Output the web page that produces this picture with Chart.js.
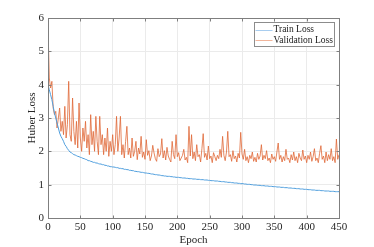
<!DOCTYPE html>
<html>
<head>
<meta charset="utf-8">
<script src="https://cdn.jsdelivr.net/npm/chart.js@4.4.1/dist/chart.umd.min.js"></script>
<style>
  html, body { margin: 0; padding: 0; background: #fff; }
  canvas { display: block; }
</style>
</head>
<body>
<canvas id="lossChart" width="374" height="247"></canvas>
<script>
// epochs 0..450 in steps of 2
const epochs = Array.from({ length: 226 }, (_, i) => i * 2);

const trainLoss = [
    4.00, 3.85, 3.70, 3.55, 3.35, 3.15, 3.00, 2.85, 2.70, 2.55,
    2.45, 2.38, 2.30, 2.20, 2.15, 2.08, 2.03, 1.98, 1.96, 1.93,
    1.90, 1.89, 1.87, 1.85, 1.84, 1.82, 1.81, 1.79, 1.78, 1.76,
    1.75, 1.72, 1.72, 1.70, 1.69, 1.67, 1.67, 1.65, 1.65, 1.63,
    1.62, 1.62, 1.60, 1.60, 1.58, 1.58, 1.56, 1.56, 1.54, 1.54,
    1.53, 1.53, 1.52, 1.51, 1.51, 1.49, 1.49, 1.48, 1.48, 1.46,
    1.46, 1.45, 1.45, 1.43, 1.43, 1.42, 1.42, 1.40, 1.40, 1.39,
    1.39, 1.38, 1.37, 1.37, 1.36, 1.35, 1.35, 1.34, 1.34, 1.33,
    1.32, 1.32, 1.31, 1.30, 1.30, 1.29, 1.29, 1.28, 1.27, 1.27,
    1.26, 1.26, 1.25, 1.25, 1.25, 1.24, 1.24, 1.23, 1.23, 1.22,
    1.22, 1.22, 1.21, 1.21, 1.20, 1.20, 1.20, 1.19, 1.19, 1.18,
    1.18, 1.18, 1.17, 1.17, 1.17, 1.16, 1.16, 1.16, 1.15, 1.15,
    1.15, 1.14, 1.14, 1.14, 1.13, 1.13, 1.12, 1.12, 1.12, 1.11,
    1.11, 1.11, 1.10, 1.10, 1.09, 1.09, 1.09, 1.08, 1.08, 1.07,
    1.07, 1.07, 1.06, 1.06, 1.05, 1.05, 1.05, 1.04, 1.04, 1.03,
    1.03, 1.03, 1.02, 1.02, 1.01, 1.01, 1.01, 1.00, 1.00, 0.99,
    0.99, 0.99, 0.98, 0.98, 0.98, 0.97, 0.97, 0.97, 0.96, 0.96,
    0.96, 0.95, 0.95, 0.95, 0.94, 0.94, 0.94, 0.93, 0.93, 0.93,
    0.92, 0.92, 0.92, 0.91, 0.91, 0.91, 0.90, 0.90, 0.90, 0.89,
    0.89, 0.89, 0.88, 0.88, 0.88, 0.87, 0.87, 0.87, 0.86, 0.86,
    0.86, 0.85, 0.85, 0.85, 0.84, 0.84, 0.84, 0.83, 0.83, 0.83,
    0.83, 0.82, 0.82, 0.82, 0.81, 0.81, 0.81, 0.81, 0.80, 0.80,
    0.80, 0.80, 0.79, 0.79, 0.79, 0.79
];

const valLoss = [
    5.75, 4.20, 3.90, 4.10, 3.30, 3.10, 3.20, 2.70, 3.00, 3.30,
    2.60, 2.90, 2.50, 3.35, 2.40, 2.80, 4.10, 2.50, 2.30, 3.60,
    2.60, 2.20, 2.90, 2.10, 3.45, 2.40, 2.00, 2.70, 2.30, 2.90,
    2.10, 2.50, 1.90, 3.10, 2.20, 2.60, 2.00, 3.05, 2.30, 1.90,
    3.05, 2.20, 2.50, 1.90, 2.40, 2.00, 2.70, 1.85, 2.30, 2.00,
    2.50, 1.90, 2.20, 3.05, 2.00, 2.40, 3.05, 1.90, 2.20, 1.80,
    2.30, 2.75, 1.90, 2.10, 1.80, 2.40, 1.85, 2.00, 2.30, 1.75,
    2.10, 1.92, 2.45, 1.82, 1.98, 1.76, 2.35, 1.88, 2.02, 1.72,
    1.86, 2.18, 1.95, 1.78, 1.70, 2.08, 1.84, 1.92, 2.38, 1.80,
    2.02, 1.74, 2.12, 1.86, 1.76, 1.68, 2.30, 1.90, 1.78, 2.50,
    1.84, 1.96, 1.72, 1.80, 1.88, 2.06, 1.74, 1.82, 1.66, 2.75,
    1.86, 2.50, 1.78, 1.98, 1.72, 2.20, 1.84, 1.90, 1.68, 2.08,
    2.53, 1.82, 1.94, 1.74, 2.16, 1.78, 1.86, 1.66, 1.96, 1.84,
    1.72, 1.88, 1.78, 2.06, 1.82, 2.45, 1.88, 1.72, 1.98, 2.60,
    1.84, 1.90, 1.70, 2.02, 1.78, 1.86, 1.68, 1.94, 1.80, 2.57,
    1.92, 1.76, 2.06, 1.72, 1.84, 1.66, 1.88, 1.78, 1.98, 1.70,
    1.82, 1.68, 1.94, 1.76, 1.86, 2.20, 1.74, 1.88, 1.78, 2.02,
    1.72, 1.80, 1.66, 1.92, 1.76, 1.84, 1.70, 1.98, 2.25, 1.76,
    1.88, 1.68, 1.84, 1.72, 2.06, 1.76, 1.80, 1.66, 1.90, 1.74,
    1.98, 1.72, 1.84, 1.66, 1.94, 1.80, 1.72, 2.04, 1.76, 1.86,
    1.66, 1.88, 1.76, 1.98, 1.70, 1.84, 2.08, 1.72, 1.80, 1.66,
    1.94, 2.17, 1.76, 1.86, 1.66, 1.98, 1.72, 1.90, 1.76, 2.08,
    1.72, 1.84, 1.66, 2.37, 1.76, 1.90
];

const seriesNames = ['Train Loss', 'Validation Loss'];
const seriesColors = ['#4f9edd', 'rgba(224,104,55,0.8)'];
const legendColors = ['#a8cdef', '#f1b59b'];

const serif = 'Liberation Serif, Times New Roman, serif';

// box round the plot with inward ticks, like the original
const framePlugin = {
    id: 'frame',
    afterDraw(chart) {
        const { ctx, chartArea: a, scales } = chart;
        ctx.save();
        ctx.strokeStyle = '#7f7f7f';
        ctx.lineWidth = 1;
        const L = Math.round(a.left) + 0.5, R = Math.round(a.right) + 0.5;
        const T = Math.round(a.top) + 0.5, B = Math.round(a.bottom) + 0.5;
        ctx.strokeRect(L, T, R - L, B - T);
        ctx.beginPath();
        scales.x.ticks.forEach(t => {
            const px = Math.round(scales.x.getPixelForValue(t.value)) + 0.5;
            ctx.moveTo(px, B); ctx.lineTo(px, B - 3);
            ctx.moveTo(px, T); ctx.lineTo(px, T + 3);
        });
        scales.y.ticks.forEach(t => {
            const py = Math.round(scales.y.getPixelForValue(t.value)) + 0.5;
            ctx.moveTo(L, py); ctx.lineTo(L + 3, py);
            ctx.moveTo(R, py); ctx.lineTo(R - 3, py);
        });
        ctx.stroke();

        // legend box
        const bx = 254.5, by = 22.5, bw = 80, bh = 24;
        ctx.fillStyle = '#fff';
        ctx.fillRect(bx, by, bw, bh);
        ctx.strokeStyle = '#8c8c8c';
        ctx.strokeRect(bx, by, bw, bh);
        ctx.font = '9.5px ' + serif;
        ctx.textBaseline = 'middle';
        ctx.fillStyle = '#1a1a1a';
        chart.data.datasets.forEach((ds, i) => {
            const y = by + 7 + i * 10.5;
            ctx.strokeStyle = legendColors[i];
            ctx.beginPath();
            ctx.moveTo(bx + 1, Math.round(y) + 0.5);
            ctx.lineTo(bx + 18, Math.round(y) + 0.5);
            ctx.stroke();
            ctx.fillText(ds.label, bx + 19, y);
        });
        ctx.restore();
    }
};

new Chart(document.getElementById('lossChart'), {
    type: 'line',
    data: {
        datasets: [
            {
                label: seriesNames[0],
                data: epochs.map((e, i) => ({ x: e, y: trainLoss[i] })),
                borderColor: seriesColors[0],
                borderWidth: 1
            },
            {
                label: seriesNames[1],
                data: epochs.map((e, i) => ({ x: e, y: valLoss[i] })),
                borderColor: seriesColors[1],
                borderWidth: 1
            }
        ]
    },
    options: {
        responsive: false,
        animation: false,
        devicePixelRatio: 1,
        layout: { padding: { left: 22, right: 35, top: 18, bottom: 0 } },
        elements: { point: { radius: 0 }, line: { tension: 0 } },
        plugins: { legend: { display: false }, tooltip: { enabled: false } },
        scales: {
            x: {
                type: 'linear',
                min: 0,
                max: 450,
                ticks: { stepSize: 50, color: '#262626', font: { family: serif, size: 11 }, padding: 3, maxRotation: 0 },
                grid: { color: '#ebebeb', drawTicks: false },
                border: { display: false },
                title: { display: true, text: 'Epoch', color: '#262626', font: { family: serif, size: 11 }, padding: { top: 0, bottom: 0 } },
                afterFit(scale) { scale.height = 29; }
            },
            y: {
                min: 0,
                max: 6,
                ticks: { stepSize: 1, color: '#262626', font: { family: serif, size: 11 }, padding: 4 },
                grid: { color: '#ebebeb', drawTicks: false },
                border: { display: false },
                title: { display: true, text: 'Huber Loss', color: '#262626', font: { family: serif, size: 11 }, padding: { top: 4, bottom: 0 } },
                afterFit(scale) { scale.width = 26; }
            }
        }
    },
    plugins: [framePlugin]
});
</script>
</body>
</html>
